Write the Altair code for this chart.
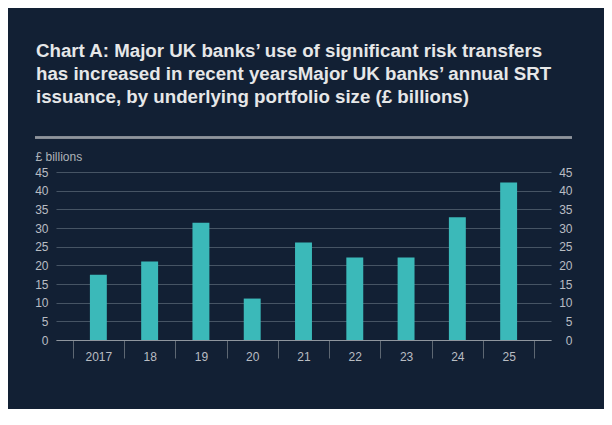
import altair as alt
import pandas as pd

# ---- data ----
years = ["2017", "18", "19", "20", "21", "22", "23", "24", "25"]
values = [17.5, 21.0, 31.4, 11.1, 26.1, 22.1, 22.1, 32.9, 42.2]
y_ticks = [0, 5, 10, 15, 20, 25, 30, 35, 40, 45]
title_lines = [
    "Chart A: Major UK banks\u2019 use of significant risk transfers",
    "has increased in recent yearsMajor UK banks\u2019 annual SRT",
    "issuance, by underlying portfolio size (\u00a3 billions)",
]
y_unit = "\u00a3 billions"

df = pd.DataFrame({"year": years, "value": values})

BG = "#122034"
BAR = "#3bb9b9"
GRID = "#465464"
LABEL = "#b9bdc3"
FONT = "Liberation Sans"

x_enc = alt.X(
    "year:N",
    sort=years,
    scale=alt.Scale(paddingInner=0, paddingOuter=0.326),
    axis=alt.Axis(
        title=None,
        tickBand="extent",
        tickSize=18,
        tickColor="#5d6772",
        tickWidth=1,
        domainColor="#8f969e",
        domainWidth=1.2,
        labelColor=LABEL,
        labelFontSize=12,
        labelAngle=0,
        labelBaseline="alphabetic",
        labelPadding=2.5,
        grid=False,
    ),
)

y_scale = alt.Scale(domain=[0, 45], nice=False, zero=True)

bars = alt.Chart(df).mark_bar(color=BAR, width=alt.RelativeBandSize(0.33)).encode(
    x=x_enc,
    y=alt.Y(
        "value:Q",
        scale=y_scale,
        axis=alt.Axis(
            values=y_ticks,
            orient="left",
            title=y_unit,
            titleAngle=0,
            titleAlign="left",
            titleBaseline="alphabetic",
            titleX=-21,
            titleY=-12,
            titleFontSize=12,
            titleFontWeight="normal",
            titleColor="#aeb3b9",
            labelAlign="right",
            labelBaseline="middle",
            labelPadding=8,
            labelColor=LABEL,
            labelFontSize=12,
            ticks=False,
            domain=False,
            grid=True,
            gridColor=GRID,
            gridWidth=1,
        ),
    ),
)

right_axis = alt.Chart(df).mark_bar(opacity=0, width=alt.RelativeBandSize(0.33)).encode(
    x=alt.X("year:N", sort=years),
    y=alt.Y(
        "value:Q",
        scale=y_scale,
        axis=alt.Axis(
            values=y_ticks,
            orient="right",
            title=None,
            labelAlign="right",
            labelBaseline="middle",
            labelPadding=21,
            labelColor=LABEL,
            labelFontSize=12,
            ticks=False,
            domain=False,
            grid=False,
        ),
    ),
)

rule = alt.Chart(df).mark_rule(color="#8e959d", strokeWidth=1.5).encode(
    x=alt.value(-21), x2=alt.value(516), y=alt.value(-34.5)
)

chart = (
    alt.layer(bars, right_axis, rule)
    .resolve_axis(y="independent")
    .properties(
        width=495,
        height=168,
        background=BG,
        padding={"left": 48, "top": 164, "right": 53, "bottom": 69},
        autosize=alt.AutoSizeParams(type="none"),
        title=alt.TitleParams(
            text=title_lines,
            anchor="start",
            frame="group",
            fontSize=18.7,
            fontWeight="bold",
            font=FONT,
            color="#e6e7e8",
            lineHeight=23,
            dx=-20,
            dy=-30,
            offset=0,
        ),
    )
    .configure(font=FONT)
    .configure_view(stroke="transparent", strokeWidth=0)
    .configure_axis(labelFont=FONT, titleFont=FONT)
)

chart.save("out.html", embed_options={"renderer": "svg", "actions": False})
